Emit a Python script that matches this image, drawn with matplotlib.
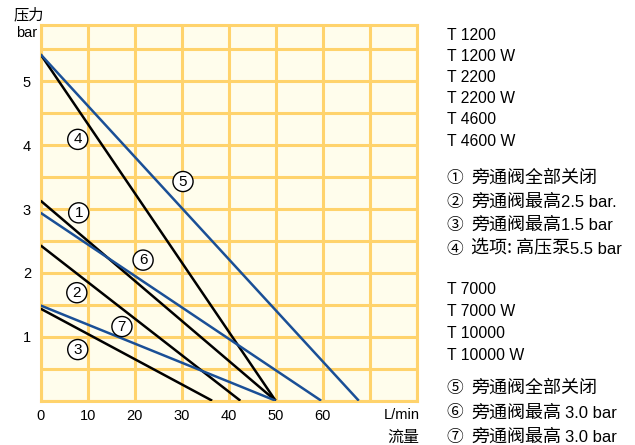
import matplotlib
matplotlib.use('Agg')
import matplotlib.pyplot as plt

plt.rcParams['font.family'] = ['Liberation Sans', 'Noto Sans CJK SC', 'DejaVu Sans']
CJK = ['Noto Sans CJK SC', 'DejaVu Sans']

# pump curves: (pressure at zero flow, flow at zero pressure)
black_start = [5.42, 3.13, 2.43, 1.44]
black_end = [50, 50, 42.5, 36.5]
blue_start = [5.42, 2.94, 1.49]
blue_end = [67.7, 59.7, 50]

# circled labels on the curves
mark_text = ['4', '5', '1', '6', '2', '7', '3']
mark_x = [7.9, 30.3, 8.1, 21.8, 7.7, 17.3, 7.9]
mark_y = [4.09, 3.43, 2.94, 2.2, 1.69, 1.16, 0.8]

x_ticks = [0, 10, 20, 30, 40, 50, 60]
y_ticks = [1, 2, 3, 4, 5]

group1_models = ['T 1200', 'T 1200 W', 'T 2200', 'T 2200 W', 'T 4600', 'T 4600 W']
group2_models = ['T 7000', 'T 7000 W', 'T 10000', 'T 10000 W']
# notes: circled number, chinese text, latin tail
group1_notes = [('①', '旁通阀全部关闭', ''),
                ('②', '旁通阀最高', '2.5 bar.'),
                ('③', '旁通阀最高', '1.5 bar'),
                ('④', '选项: 高压泵', '5.5 bar')]
group2_notes = [('⑤', '旁通阀全部关闭', ''),
                ('⑥', '旁通阀最高', ' 3.0 bar'),
                ('⑦', '旁通阀最高', ' 3.0 bar')]

bg = '#FFFDEC'
grid_c = '#FFD36C'
blue = '#1A4F96'

fig = plt.figure(figsize=(6.35, 4.45), dpi=100)
ax = fig.add_axes([0.064, 0.0996, 0.592, 0.8442])
ax.set_facecolor(bg)
ax.set_xlim(0, 80)
ax.set_ylim(0, 5.88)

for gx in range(0, 90, 10):
    ax.axvline(gx, color=grid_c, lw=2.2, zorder=1)
for i in range(12):
    ax.axhline(i * 0.5, color=grid_c, lw=2.2, zorder=1)
for s in ax.spines.values():
    s.set_color(grid_c)
    s.set_linewidth(2.2)

for y0, x1 in zip(black_start, black_end):
    ax.plot([0, x1], [y0, 0], color='black', lw=1.8, zorder=3, solid_capstyle='butt')
for y0, x1 in zip(blue_start, blue_end):
    ax.plot([0, x1], [y0, 0], color=blue, lw=1.8, zorder=3, solid_capstyle='butt')

for t, mx, my in zip(mark_text, mark_x, mark_y):
    ax.text(mx, my, t, ha='center', va='center', fontsize=11, zorder=5,
            bbox=dict(boxstyle='circle,pad=0.2', fc='white', ec='black', lw=1))

ax.set_xticks(x_ticks)
ax.set_yticks(y_ticks)
ax.tick_params(length=0, labelsize=10.5, pad=6)
ax.tick_params(axis='y', pad=7)

fig.text(0.661, 0.068, 'L/min', ha='right', va='center', fontsize=10.5)
fig.text(0.661, 0.018, '流量', ha='right', va='center', fontsize=11.5, family=CJK)
fig.text(0.058, 0.925, 'bar', ha='right', va='center', fontsize=10.5)
fig.text(0.022, 0.967, '压力', ha='left', va='center', fontsize=11, family=CJK)

W, H = 635.0, 445.0
renderer = fig.canvas.get_renderer()


def put_models(lines, y_top, step):
    for i, s in enumerate(lines):
        fig.text(447 / W, 1 - (y_top + i * step) / H, s, ha='left', va='center', fontsize=11.3)


def put_notes(notes, base_top, step):
    for i, (circ, cn, tail) in enumerate(notes):
        yb = 1 - (base_top + i * step) / H
        fig.text(446 / W, yb, circ, ha='left', va='baseline', fontsize=12, family=CJK)
        t = fig.text(471 / W, yb, cn, ha='left', va='baseline', fontsize=13, family=CJK)
        if tail:
            bb = t.get_window_extent(renderer)
            x = bb.x1 / W
            if tail.startswith(' '):
                x += 4 / W
            fig.text(x, yb, tail.strip(), ha='left', va='baseline', fontsize=12)


put_models(group1_models, 35, 21.2)
put_notes(group1_notes, 183, 23.5)
put_models(group2_models, 290, 21.7)
put_notes(group2_notes, 393, 24.5)

fig.savefig('out.png', dpi=100)
